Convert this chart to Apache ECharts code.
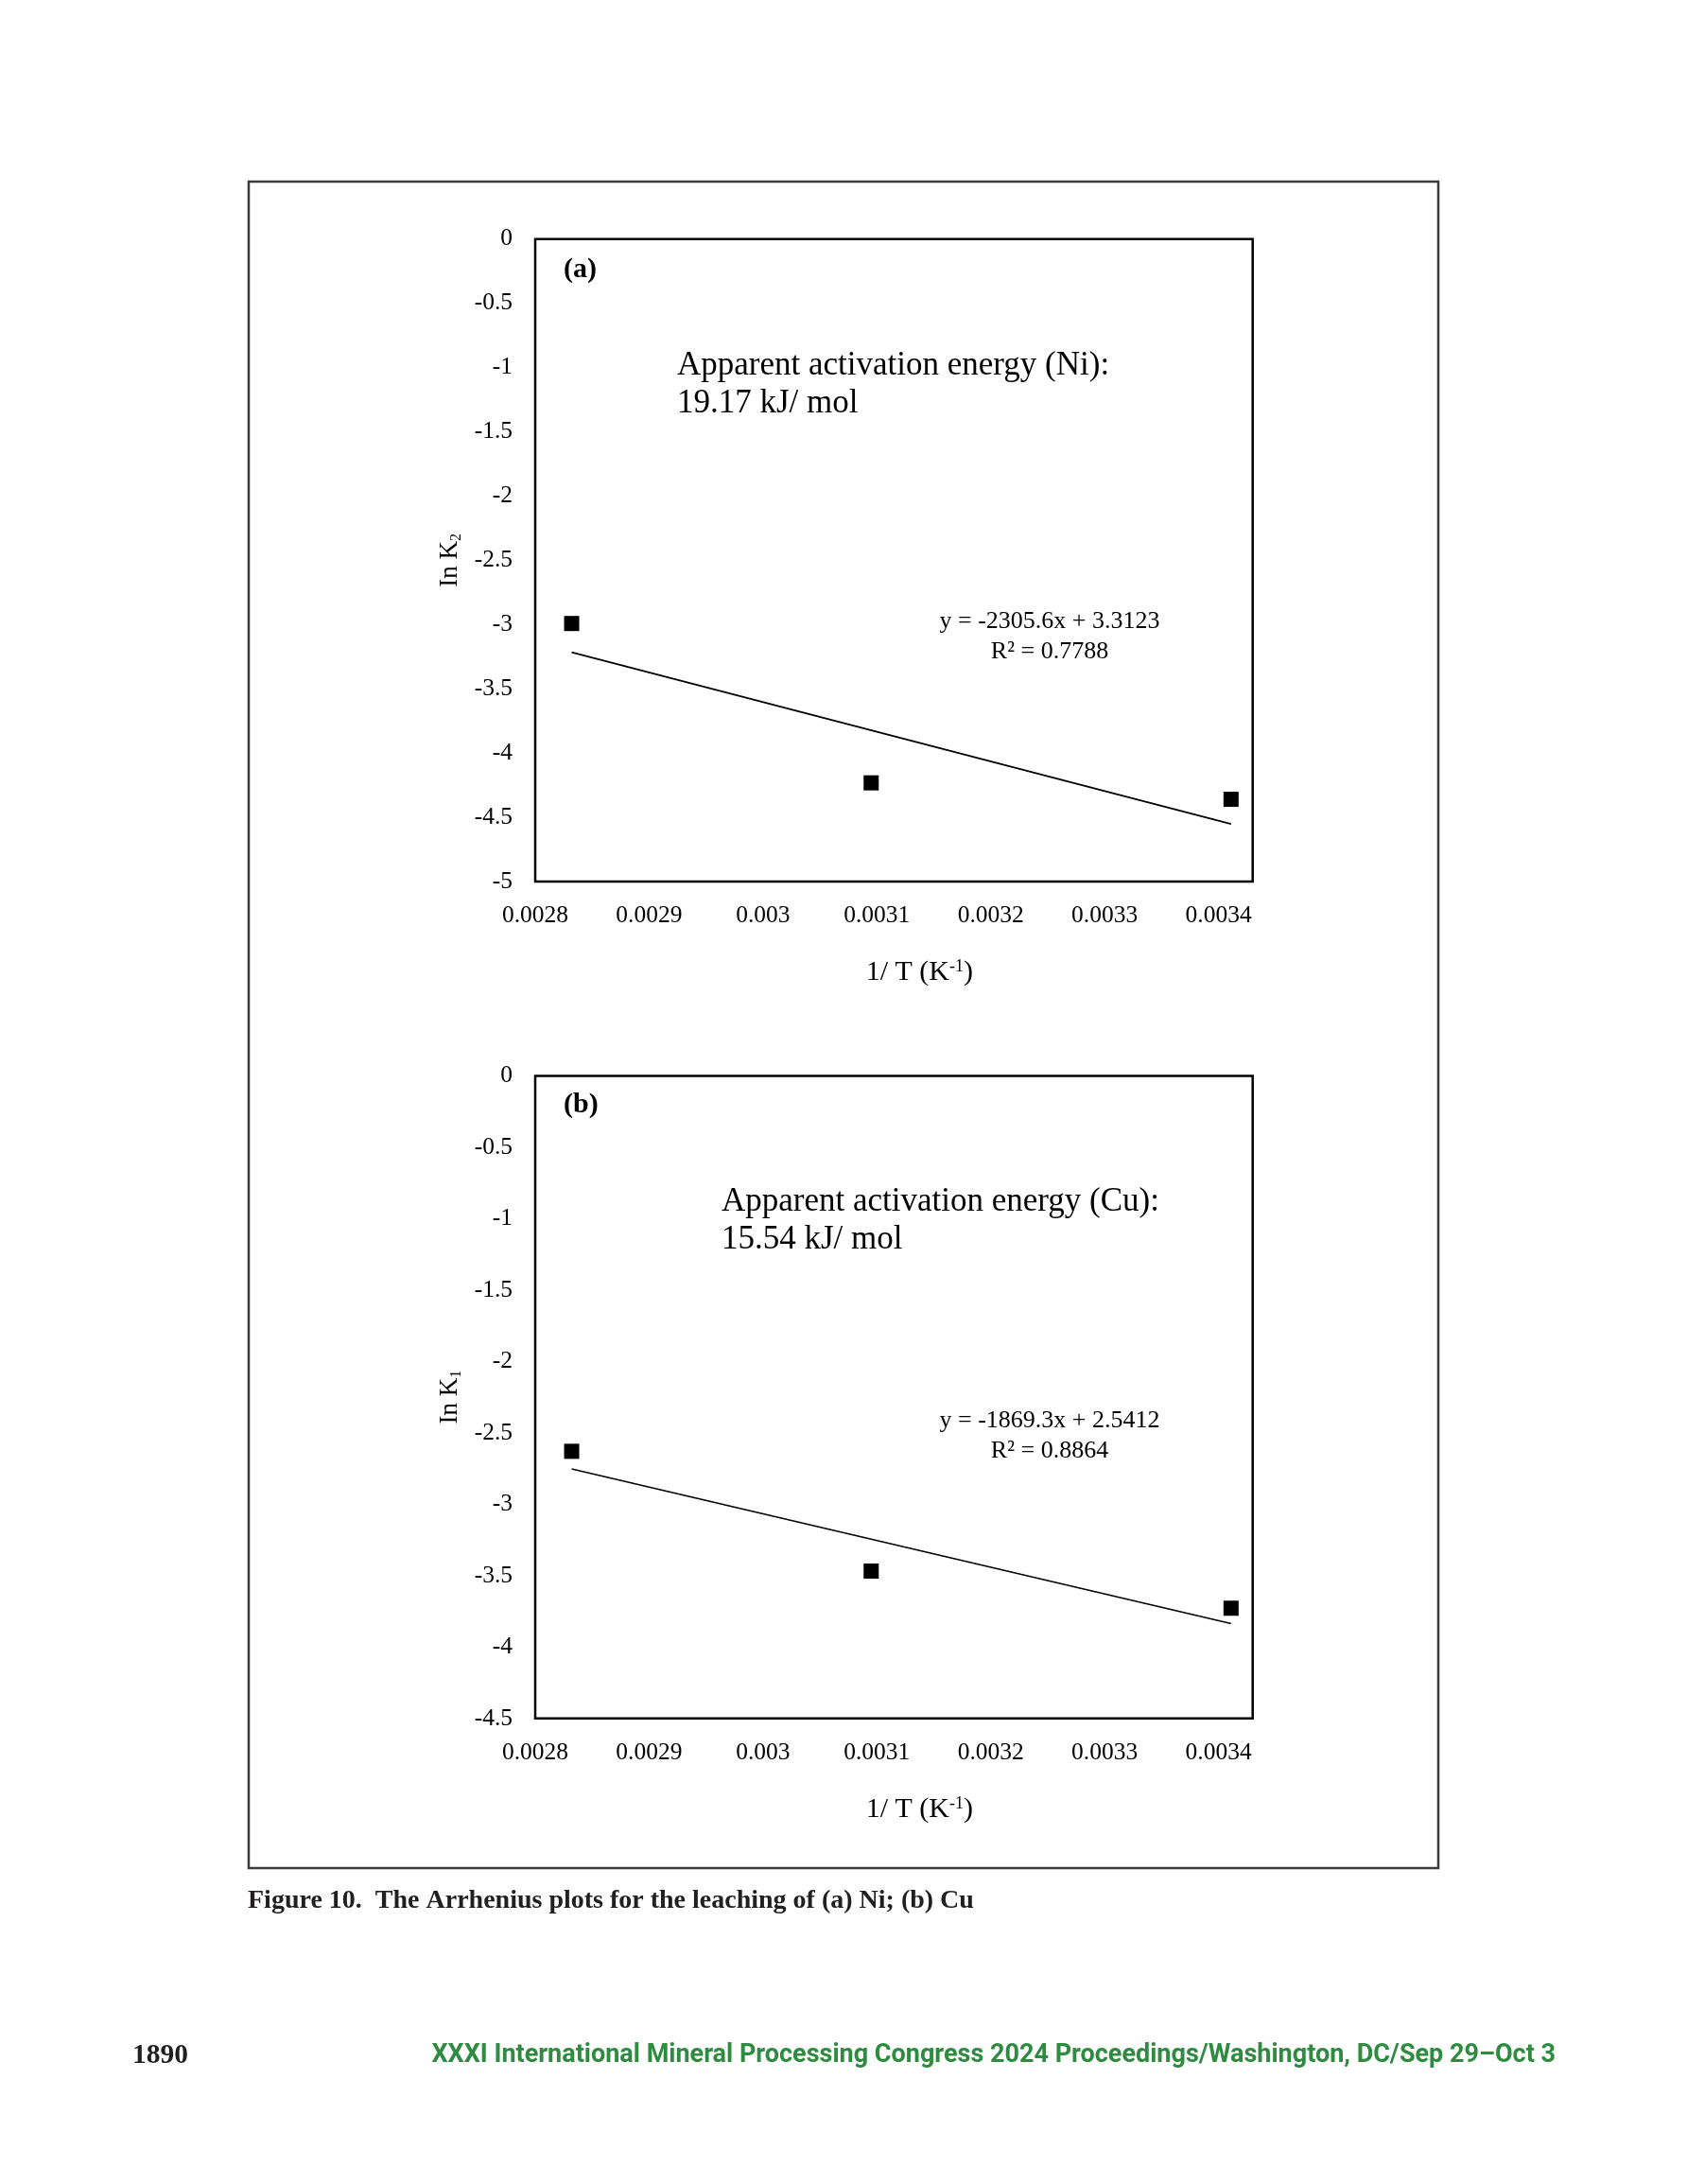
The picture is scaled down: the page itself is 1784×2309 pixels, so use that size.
<!DOCTYPE html>
<html>
<head>
<meta charset="utf-8">
<script src="https://cdn.jsdelivr.net/npm/echarts@6/dist/echarts.min.js"></script>
<style>
html,body{margin:0;padding:0;background:#fff;}
#c{width:1784px;height:2309px;}
</style>
</head>
<body>
<div id="c"></div>
<script>
// ---- data ----
const xTickLabels = ['0.0028', '0.0029', '0.003', '0.0031', '0.0032', '0.0033', '0.0034'];
const invT = [0.002832, 0.003095, 0.003411];          // 1/T (K^-1)
const lnK2Ni = [-2.992, -4.232, -4.360];              // panel (a)
const lnK1Cu = [-2.629, -3.468, -3.728];              // panel (b)
const trendX = [0.002832, 0.003411];
const trendNiY = [-3.216, -4.552];
const trendCuY = [-2.753, -3.835];
const yTicksA = [0, -0.5, -1, -1.5, -2, -2.5, -3, -3.5, -4, -4.5, -5];
const yTicksB = [0, -0.5, -1, -1.5, -2, -2.5, -3, -3.5, -4, -4.5];

const SERIF = "'Liberation Serif', 'Times New Roman', serif";
const chart = echarts.init(document.getElementById('c'));

function pairs(xs, ys) { return xs.map((x, i) => [x, ys[i]]); }

function xAxis(gi) {
  return {
    type: 'value', gridIndex: gi, min: 0.0028, max: 0.00343, interval: 0.0001,
    axisLine: { show: false }, axisTick: { show: false }, splitLine: { show: false },
    axisLabel: {
      margin: 23, color: '#000', fontFamily: SERIF, fontSize: 25.5,
      formatter: function (v) {
        const i = Math.round((v - 0.0028) / 0.0001);
        if (Math.abs(v - (0.0028 + i * 0.0001)) > 1e-9) return '';
        return xTickLabels[i] || '';
      }
    },
    name: '{a|1/ T (K}{s|-1}{a|)}', nameLocation: 'middle', nameGap: 78,
    nameTextStyle: {
      padding: [0, 0, 0, 54],
      rich: {
        a: { fontFamily: SERIF, fontSize: 30, color: '#000', lineHeight: 36 },
        s: { fontFamily: SERIF, fontSize: 18, color: '#000', lineHeight: 36, verticalAlign: 'top', padding: [3, 0, 0, 0] }
      }
    }
  };
}
function yAxis(gi, mn, ticks, sub) {
  return {
    type: 'value', gridIndex: gi, min: mn, max: 0, interval: 0.5,
    axisLine: { show: false }, axisTick: { show: false }, splitLine: { show: false },
    axisLabel: {
      margin: 24, color: '#000', fontFamily: SERIF, fontSize: 25.5,
      formatter: function (v) {
        const t = ticks.find(tt => Math.abs(tt - v) < 1e-9);
        return t === undefined ? '' : String(t);
      }
    },
    name: '{a|In K}{s|' + sub + '}', nameLocation: 'middle', nameGap: 73,
    nameTextStyle: {
      rich: {
        a: { fontFamily: SERIF, fontSize: 27, color: '#000', lineHeight: 34 },
        s: { fontFamily: SERIF, fontSize: 16, color: '#000', lineHeight: 34, verticalAlign: 'bottom', padding: [0, 0, 2, 0] }
      }
    }
  };
}

const markStyle = { color: '#000', opacity: 1 };
const option = {
  backgroundColor: '#fff',
  animation: false,
  grid: [
    { left: 566, top: 252.7, width: 758.7, height: 679.3, show: true, borderColor: '#000', borderWidth: 2.5, backgroundColor: 'transparent' },
    { left: 566, top: 1137.5, width: 758.7, height: 679.3, show: true, borderColor: '#000', borderWidth: 2.5, backgroundColor: 'transparent' }
  ],
  xAxis: [xAxis(0), xAxis(1)],
  yAxis: [yAxis(0, -5, yTicksA, '2'), yAxis(1, -4.5, yTicksB, '1')],
  series: [
    { type: 'line', xAxisIndex: 0, yAxisIndex: 0, data: pairs(trendX, trendNiY), showSymbol: false, lineStyle: { color: '#000', width: 1.6 }, z: 2 },
    { type: 'scatter', xAxisIndex: 0, yAxisIndex: 0, data: pairs(invT, lnK2Ni), symbol: 'rect', symbolSize: 16, itemStyle: markStyle, z: 3 },
    { type: 'line', xAxisIndex: 1, yAxisIndex: 1, data: pairs(trendX, trendCuY), showSymbol: false, lineStyle: { color: '#000', width: 1.6 }, z: 2 },
    { type: 'scatter', xAxisIndex: 1, yAxisIndex: 1, data: pairs(invT, lnK1Cu), symbol: 'rect', symbolSize: 16, itemStyle: markStyle, z: 3 }
  ],
  graphic: [
    { type: 'rect', shape: { x: 263, y: 192, width: 1258, height: 1783 }, style: { fill: 'none', stroke: '#3a3a3a', lineWidth: 2.5 }, silent: true },
    // panel (a)
    { type: 'text', x: 596, y: 285, style: { text: '(a)', font: 'bold 30px ' + SERIF, fill: '#000', textVerticalAlign: 'middle' } },
    { type: 'text', x: 716, y: 387, style: { text: 'Apparent activation energy (Ni):', font: '35px ' + SERIF, fill: '#000', textVerticalAlign: 'middle' } },
    { type: 'text', x: 716, y: 427, style: { text: '19.17 kJ/ mol', font: '35px ' + SERIF, fill: '#000', textVerticalAlign: 'middle' } },
    { type: 'text', x: 1110, y: 657, style: { text: 'y = -2305.6x + 3.3123', font: '26px ' + SERIF, fill: '#000', textAlign: 'center', textVerticalAlign: 'middle' } },
    { type: 'text', x: 1110, y: 689, style: { text: 'R² = 0.7788', font: '26px ' + SERIF, fill: '#000', textAlign: 'center', textVerticalAlign: 'middle' } },
    // panel (b)
    { type: 'text', x: 596, y: 1168, style: { text: '(b)', font: 'bold 30px ' + SERIF, fill: '#000', textVerticalAlign: 'middle' } },
    { type: 'text', x: 763, y: 1271, style: { text: 'Apparent activation energy (Cu):', font: '35px ' + SERIF, fill: '#000', textVerticalAlign: 'middle' } },
    { type: 'text', x: 763, y: 1311, style: { text: '15.54 kJ/ mol', font: '35px ' + SERIF, fill: '#000', textVerticalAlign: 'middle' } },
    { type: 'text', x: 1110, y: 1502, style: { text: 'y = -1869.3x + 2.5412', font: '26px ' + SERIF, fill: '#000', textAlign: 'center', textVerticalAlign: 'middle' } },
    { type: 'text', x: 1110, y: 1534, style: { text: 'R² = 0.8864', font: '26px ' + SERIF, fill: '#000', textAlign: 'center', textVerticalAlign: 'middle' } },
    // caption and footer
    { type: 'text', x: 262, y: 2010, style: { text: 'Figure 10.  The Arrhenius plots for the leaching of (a) Ni; (b) Cu', font: 'bold 28px ' + SERIF, fill: '#231f20', textVerticalAlign: 'middle' } },
    { type: 'text', x: 140, y: 2173, style: { text: '1890', font: 'bold 29.5px ' + SERIF, fill: '#231f20', textVerticalAlign: 'middle' } },
    { type: 'text', x: 1645, y: 2173, style: { text: 'XXXI International Mineral Processing Congress 2024 Proceedings/Washington, DC/Sep 29–Oct 3', font: 'bold 27px Roboto, sans-serif', fill: '#2e8b3f', textAlign: 'right', textVerticalAlign: 'middle' } }
  ]
};
chart.setOption(option);
</script>
</body>
</html>
